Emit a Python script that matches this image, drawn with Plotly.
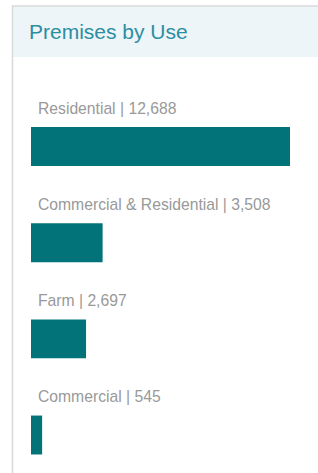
import plotly.graph_objects as go

categories = ["Residential", "Commercial & Residential", "Farm", "Commercial"]
values = [12688, 3508, 2697, 545]
labels = [f"{c} | {v:,}" for c, v in zip(categories, values)]

W, H = 318, 473
BAR_COLOR = "#03737a"

fig = go.Figure()
fig.add_trace(go.Bar(
    x=values, y=categories, orientation="h",
    marker=dict(color=BAR_COLOR, line=dict(width=0)),
    width=0.405, hoverinfo="skip",
))

annotations = []
for c, lab in zip(categories, labels):
    annotations.append(dict(
        x=0, y=c, xref="x", yref="y", text=lab, showarrow=False,
        xanchor="left", yanchor="middle", xshift=4.5, yshift=38.5,
        font=dict(family="Liberation Sans, Arial, sans-serif", size=15.7, color="#999999"),
    ))
annotations.append(dict(
    x=27 / W, y=1 - 32 / H, xref="paper", yref="paper", text="Premises by Use",
    showarrow=False, xanchor="left", yanchor="middle",
    font=dict(family="Liberation Sans, Arial, sans-serif", size=21, color="#2b8ea2"),
))

shapes = [
    dict(type="rect", xref="paper", yref="paper", x0=13 / W, x1=1, y0=1 - 57 / H, y1=1 - 6.5 / H,
         fillcolor="#eef5f8", line=dict(width=0), layer="below"),
    dict(type="line", xref="paper", yref="paper", x0=12 / W, x1=1, y0=1 - 6 / H, y1=1 - 6 / H,
         line=dict(color="#d9d9d9", width=1.5)),
    dict(type="line", xref="paper", yref="paper", x0=12.5 / W, x1=12.5 / W, y0=0, y1=1 - 5.5 / H,
         line=dict(color="#d9d9d9", width=1.5)),
]

fig.update_layout(
    width=W, height=H,
    margin=dict(l=0, r=0, t=0, b=0),
    paper_bgcolor="white", plot_bgcolor="rgba(0,0,0,0)",
    showlegend=False,
    xaxis=dict(domain=[31 / W, 290 / W], range=[0, max(values)], visible=False, fixedrange=True),
    yaxis=dict(domain=[0, (H - 57) / H], type="category", categoryorder="array",
               categoryarray=categories, range=[3.395, -0.931], visible=False, fixedrange=True),
    annotations=annotations,
    shapes=shapes,
)

fig.write_html(
    "out.html",
    config={"displayModeBar": False},
    post_script="document.body.style.margin='0';document.body.style.overflow='hidden';",
)
